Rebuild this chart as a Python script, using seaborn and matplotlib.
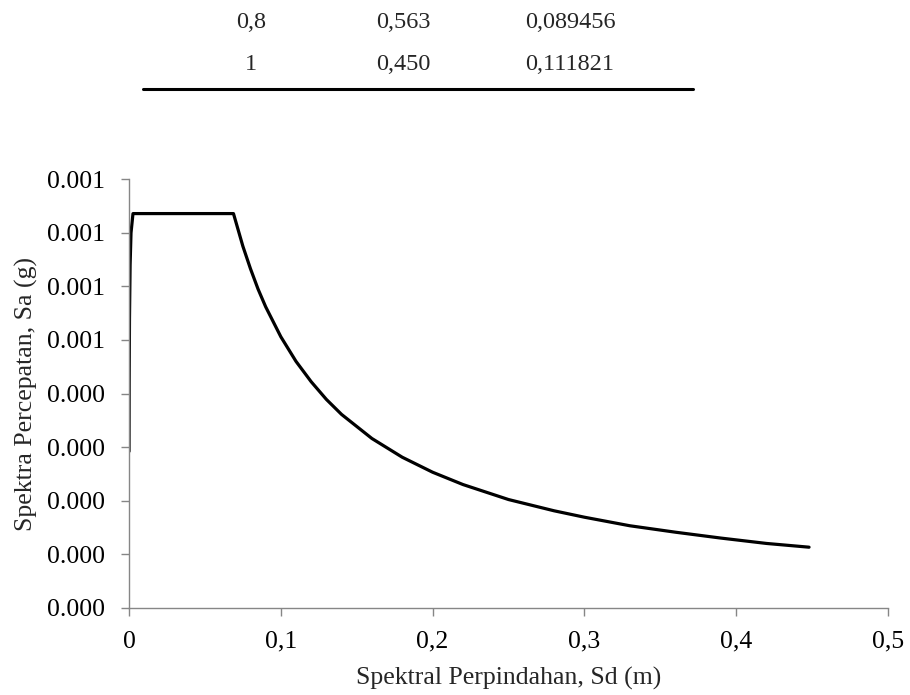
import matplotlib
matplotlib.use("Agg")
import matplotlib.pyplot as plt
import seaborn as sns
import pandas as pd

# ADRS curve (Sd in m, Sa in g)
sd = [0.0, 0.0001, 0.0003, 0.0007, 0.0013, 0.0026, 0.0688, 0.075, 0.08, 0.085, 0.09,
      0.1, 0.11, 0.12, 0.13, 0.14, 0.16, 0.18, 0.2, 0.22, 0.25, 0.28, 0.3,
      0.33, 0.36, 0.39, 0.42, 0.448]
sa = [0.000292, 0.000420, 0.000540, 0.000640, 0.000700, 0.000736, 0.000736, 0.000675,
      0.000633, 0.000595, 0.000562, 0.000506, 0.000460, 0.000422, 0.000389, 0.000361,
      0.000316, 0.000281, 0.000253, 0.000230, 0.000202, 0.000181, 0.000169,
      0.000153, 0.000141, 0.000130, 0.000120, 0.000113]

# table rows printed above the chart
table_rows = [["0,8", "0,563", "0,089456"],
              ["1", "0,450", "0,111821"]]

xticks = [0, 0.1, 0.2, 0.3, 0.4, 0.5]
xtick_labels = ["0", "0,1", "0,2", "0,3", "0,4", "0,5"]
yticks = [0, 0.0001, 0.0002, 0.0003, 0.0004, 0.0005, 0.0006, 0.0007, 0.0008]
ytick_labels = ["0.000", "0.000", "0.000", "0.000", "0.000", "0.001", "0.001", "0.001", "0.001"]

df = pd.DataFrame({"sd": sd, "sa": sa})

sns.set_style("white")
plt.rcParams["font.family"] = ["Liberation Serif", "DejaVu Serif"]

fig = plt.figure(figsize=(9.1, 6.95), dpi=100)
ax = fig.add_axes([0.1418, 0.1256, 0.834, 0.6164])

sns.lineplot(data=df, x="sd", y="sa", sort=False, color="black", linewidth=2.3, ax=ax)

ax.set_xlim(0, 0.5)
ax.set_ylim(0, 0.0008)
ax.set_xticks(xticks)
ax.set_xticklabels(xtick_labels)
ax.set_yticks(yticks)
ax.set_yticklabels(ytick_labels)
ax.tick_params(axis="both", labelsize=18.5, colors="#868686", labelcolor="black",
               direction="out", length=5.5, width=1, bottom=True, left=True)
ax.tick_params(axis="x", pad=11)
ax.tick_params(axis="y", pad=12)
for s in ["top", "right"]:
    ax.spines[s].set_visible(False)
for s in ["left", "bottom"]:
    ax.spines[s].set_color("#868686")
    ax.spines[s].set_linewidth(1)

ax.set_xlabel("Spektral Perpindahan, Sd (m)", fontsize=18.5, labelpad=10)
ax.set_ylabel("Spektra Percepatan, Sa (g)", fontsize=18.5, labelpad=6)

# table fragment at the top
col_x = [251 / 910, 403 / 910, 570 / 910]
row_y = [1 - 23 / 695, 1 - 64 / 695]
for r, row in enumerate(table_rows):
    for c, txt in enumerate(row):
        fig.text(col_x[c], row_y[r], txt, ha="center", va="center", fontsize=17.5)
fig.add_artist(plt.Line2D([143 / 910, 693 / 910], [1 - 89 / 695, 1 - 89 / 695],
                          color="black", linewidth=2.2))

fig.savefig("out.png", dpi=100)
